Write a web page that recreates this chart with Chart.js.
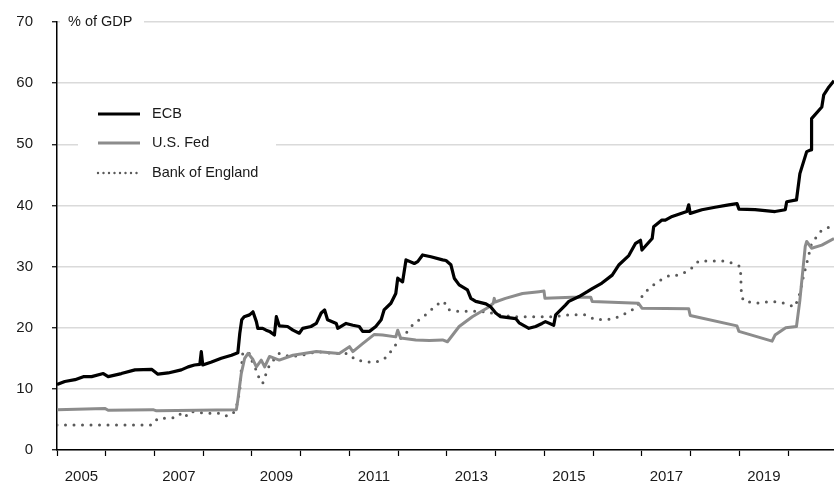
<!DOCTYPE html>
<html>
<head>
<meta charset="utf-8">
<script src="https://cdn.jsdelivr.net/npm/chart.js@4/dist/chart.umd.min.js"></script>
<style>
  body { margin: 0; background: #fff; }
  #wrap { width: 834px; height: 485px; }
</style>
</head>
<body>
<div id="wrap"><canvas id="grafico" width="834" height="485"></canvas></div>
<script>
// dados (% do PIB)
const ecbYears = [2005.00, 2005.16, 2005.37, 2005.54, 2005.71, 2005.95, 2006.05, 2006.32, 2006.60, 2006.94,
    2007.07, 2007.28, 2007.55, 2007.69, 2007.82, 2007.93, 2007.96, 2007.99, 2008.17, 2008.37,
    2008.58, 2008.71, 2008.75, 2008.79, 2008.84, 2008.95, 2009.02, 2009.09, 2009.12, 2009.22,
    2009.29, 2009.36, 2009.46, 2009.50, 2009.56, 2009.73, 2009.84, 2009.97, 2010.04, 2010.21,
    2010.32, 2010.42, 2010.49, 2010.55, 2010.73, 2010.76, 2010.93, 2011.07, 2011.20, 2011.27,
    2011.41, 2011.54, 2011.65, 2011.71, 2011.85, 2011.95, 2011.99, 2012.09, 2012.16, 2012.33,
    2012.40, 2012.50, 2012.67, 2012.91, 2012.98, 2013.08, 2013.15, 2013.25, 2013.42, 2013.49,
    2013.59, 2013.80, 2013.90, 2014.00, 2014.10, 2014.41, 2014.48, 2014.68, 2014.82, 2014.95,
    2015.02, 2015.19, 2015.23, 2015.43, 2015.50, 2015.71, 2015.88, 2015.98, 2016.18, 2016.39,
    2016.53, 2016.73, 2016.87, 2016.97, 2017.00, 2017.21, 2017.24, 2017.41, 2017.48, 2017.62,
    2017.92, 2017.96, 2017.99, 2018.23, 2018.50, 2018.78, 2018.95, 2018.99, 2019.32, 2019.73,
    2019.94, 2019.97, 2020.17, 2020.24, 2020.38, 2020.47, 2020.48, 2020.69, 2020.73, 2020.82, 2020.94];
const ecbValues = [10.7, 11.2, 11.5, 12.0, 12.0, 12.5, 12.0, 12.5, 13.1, 13.2,
    12.4, 12.6, 13.1, 13.6, 13.9, 14.0, 16.1, 13.9, 14.4, 15.0,
    15.5, 15.9, 19.1, 21.3, 21.8, 22.1, 22.6, 21.0, 19.9, 19.9,
    19.6, 19.4, 18.8, 21.8, 20.3, 20.2, 19.6, 19.1, 19.9, 20.2,
    20.7, 22.4, 22.9, 21.3, 20.7, 19.9, 20.7, 20.4, 20.2, 19.4,
    19.4, 20.2, 21.3, 22.9, 24.0, 25.6, 28.1, 27.5, 31.1, 30.5,
    30.8, 31.9, 31.6, 31.1, 31.0, 30.3, 28.1, 27.0, 26.2, 24.8,
    24.3, 23.9, 23.4, 22.4, 21.8, 21.5, 20.8, 19.9, 20.2, 20.7,
    21.0, 20.4, 22.1, 23.7, 24.3, 25.1, 25.9, 26.4, 27.3, 28.6,
    30.3, 31.8, 33.8, 34.3, 32.7, 34.6, 36.5, 37.6, 37.6, 38.2,
    39.0, 40.1, 38.7, 39.3, 39.7, 40.1, 40.3, 39.4, 39.3, 39.0,
    39.3, 40.6, 40.9, 45.2, 48.8, 49.1, 54.2, 56.1, 58.1, 59.2, 60.4];

const fedYears = [2005.00, 2005.98, 2006.05, 2006.97, 2007.04, 2008.68, 2008.71, 2008.78, 2008.85, 2008.92,
    2009.02, 2009.09, 2009.19, 2009.26, 2009.36, 2009.56, 2009.84, 2010.32, 2010.79, 2011.00,
    2011.07, 2011.27, 2011.51, 2011.68, 2011.95, 2011.99, 2012.05, 2012.36, 2012.64, 2012.91,
    2013.01, 2013.25, 2013.52, 2013.86, 2013.95, 2013.97, 2013.99, 2014.20, 2014.55, 2014.89,
    2014.99, 2015.01, 2015.57, 2015.95, 2015.98, 2016.93, 2017.00, 2017.96, 2017.99, 2018.95,
    2018.99, 2019.67, 2019.73, 2019.95, 2020.17, 2020.24, 2020.35, 2020.38, 2020.48, 2020.69, 2020.94];
const fedValues = [6.6, 6.8, 6.5, 6.6, 6.4, 6.6, 8.2, 12.5, 15.0, 15.8,
    14.8, 13.6, 14.7, 13.6, 15.3, 14.7, 15.5, 16.1, 15.8, 16.9,
    16.1, 17.4, 18.9, 18.8, 18.5, 19.6, 18.3, 18.0, 17.9, 18.0,
    17.7, 20.2, 21.8, 23.4, 24.0, 24.8, 24.2, 24.8, 25.6, 25.9,
    26.0, 24.8, 25.0, 25.0, 24.3, 24.0, 23.2, 23.1, 22.0, 20.3,
    19.4, 17.8, 18.8, 20.0, 20.2, 24.5, 33.3, 34.1, 33.0, 33.5, 34.6];

const boeYears = [2005.00, 2006.95, 2007.07, 2007.25, 2007.42, 2007.52, 2007.62, 2007.72, 2007.96, 2008.17,
    2008.37, 2008.47, 2008.61, 2008.70, 2008.75, 2008.78, 2008.81, 2008.92, 2008.98, 2009.02,
    2009.09, 2009.16, 2009.22, 2009.29, 2009.36, 2009.50, 2009.56, 2009.77, 2010.04, 2010.32,
    2010.66, 2010.96, 2011.14, 2011.48, 2011.65, 2011.78, 2011.88, 2012.02, 2012.16, 2012.29,
    2012.43, 2012.64, 2012.77, 2012.94, 2013.01, 2013.18, 2013.52, 2013.80, 2014.07, 2014.41,
    2014.75, 2015.16, 2015.50, 2015.84, 2016.05, 2016.39, 2016.56, 2016.73, 2016.90, 2017.03,
    2017.31, 2017.58, 2017.75, 2017.92, 2018.06, 2018.16, 2018.50, 2018.71, 2018.88, 2019.02,
    2019.04, 2019.08, 2019.32, 2019.66, 2019.87, 2020.14, 2020.24, 2020.31, 2020.38, 2020.48,
    2020.69, 2020.86, 2020.94];
const boeValues = [4.1, 4.1, 5.2, 5.2, 5.3, 5.9, 5.3, 6.3, 6.1, 6.0,
    6.0, 5.6, 5.9, 7.6, 9.8, 13.1, 15.8, 16.1, 15.3, 13.9,
    13.1, 11.4, 10.9, 12.5, 13.9, 15.3, 15.8, 15.3, 15.5, 16.1,
    15.8, 15.8, 14.7, 14.3, 14.6, 15.3, 16.5, 18.0, 19.1, 20.4,
    21.3, 22.6, 23.7, 24.3, 23.0, 22.7, 22.7, 22.6, 22.1, 21.8,
    21.8, 21.8, 22.1, 22.1, 21.3, 21.4, 21.9, 22.6, 23.4, 25.6,
    27.5, 28.6, 28.6, 29.2, 30.0, 30.9, 30.9, 30.9, 30.5, 30.0,
    25.6, 24.4, 24.0, 24.3, 24.1, 23.4, 25.6, 28.3, 30.5, 33.8,
    36.0, 36.5, 36.9];

const seriesLabels = ["ECB", "U.S. Fed", "Bank of England"];
const yearTicks = [2005, 2006, 2007, 2008, 2009, 2010, 2011, 2012, 2013, 2014, 2015, 2016, 2017, 2018, 2019, 2020];
const yearLabels = ["2005", "2007", "2009", "2011", "2013", "2015", "2017", "2019"];
const unitLabel = "% of GDP";

const FONTE = '"Liberation Sans", Arial, sans-serif';
const COR_TEXTO = "#1a1a1a";

function pares(xs, ys) {
    return xs.map((x, i) => ({ x, y: ys[i] }));
}

// legenda e rótulo de unidade com fundo branco por cima das linhas de grade
const legendaPlugin = {
    id: "legenda",
    beforeDatasetsDraw(chart) {
        const ctx = chart.ctx;
        ctx.save();

        ctx.fillStyle = "#fff";
        ctx.fillRect(60, 12, 84, 20);
        ctx.fillRect(78, 98, 198, 90);

        ctx.font = "14.5px " + FONTE;
        ctx.fillStyle = COR_TEXTO;
        ctx.textBaseline = "middle";
        ctx.fillText(unitLabel, 68, 22);

        const ys = [114, 143, 173];
        chart.data.datasets.forEach((ds, i) => {
            ctx.beginPath();
            ctx.strokeStyle = ds.borderColor;
            ctx.lineWidth = i === 2 ? 2.4 : ds.borderWidth;
            ctx.lineCap = i === 2 ? "round" : "butt";
            ctx.setLineDash(i === 2 ? [0, 5.5] : []);
            ctx.moveTo(98, ys[i]);
            ctx.lineTo(140, ys[i]);
            ctx.stroke();
            ctx.setLineDash([]);
            ctx.fillStyle = COR_TEXTO;
            ctx.fillText(ds.label, 152, ys[i]);
        });
        ctx.restore();
    }
};

Chart.defaults.font.family = FONTE;
Chart.defaults.font.size = 15;
Chart.defaults.color = COR_TEXTO;

const chart = new Chart(document.getElementById("grafico"), {
    type: "line",
    data: {
        datasets: [
            {
                label: seriesLabels[0],
                data: pares(ecbYears, ecbValues),
                borderColor: "#000000",
                borderWidth: 3.2,
                borderJoinStyle: "round"
            },
            {
                label: seriesLabels[1],
                data: pares(fedYears, fedValues),
                borderColor: "#8c8c8c",
                borderWidth: 3,
                borderJoinStyle: "round"
            },
            {
                label: seriesLabels[2],
                data: pares(boeYears, boeValues),
                borderColor: "#5a5a5a",
                borderWidth: 3,
                borderDash: [0, 8.5],
                borderCapStyle: "round"
            }
        ]
    },
    options: {
        responsive: false,
        animation: false,
        devicePixelRatio: 1,
        layout: { padding: { left: 17, top: 22, right: 0, bottom: 0 } },
        elements: { point: { radius: 0 }, line: { tension: 0 } },
        plugins: { legend: { display: false }, tooltip: { enabled: false } },
        scales: {
            x: {
                type: "linear",
                min: 2005,
                max: 2020.94,
                afterBuildTicks: scale => {
                    scale.ticks = yearTicks.map(v => ({ value: v }));
                },
                afterFit: scale => {
                    scale.height = 35;
                    scale.paddingLeft = 0;
                    scale.paddingRight = 0;
                },
                ticks: {
                    autoSkip: false,
                    maxRotation: 0,
                    padding: 12,
                    labelOffset: 24.4,
                    callback: v => yearLabels.includes(String(v)) ? String(v) : ""
                },
                grid: {
                    drawOnChartArea: false,
                    drawTicks: true,
                    tickLength: 6,
                    tickColor: "#000",
                    tickWidth: 1.2
                },
                border: { color: "#000", width: 1.5 }
            },
            y: {
                min: 0,
                max: 70,
                afterFit: scale => {
                    scale.width = 40;
                    scale.paddingTop = 0;
                    scale.paddingBottom = 0;
                },
                ticks: { stepSize: 10, padding: 19 },
                grid: {
                    color: "#dadada",
                    lineWidth: 1.5,
                    tickLength: 5,
                    tickColor: "#000",
                    tickWidth: 1.2
                },
                border: { color: "#000", width: 1.5 }
            }
        }
    },
    plugins: [legendaPlugin]
});
</script>
</body>
</html>
